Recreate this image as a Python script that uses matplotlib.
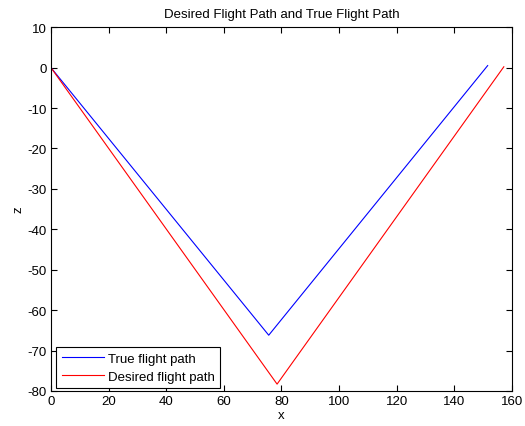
import numpy as np
import matplotlib.pyplot as plt

# flight path vertices (x, z)
true_x = [0, 75.6, 151.6]
true_z = [0, -66.2, 0.5]
desired_x = [0, 78.5, 157.2]
desired_z = [0, -78.3, 0.2]

plt.rcParams['font.family'] = ['Liberation Sans', 'DejaVu Sans']
plt.rcParams['font.size'] = 9.5
plt.rcParams['axes.unicode_minus'] = False

fig = plt.figure(figsize=(5.25, 4.27), dpi=100)
ax = fig.add_axes([0.097, 0.082, 0.878, 0.852])

ax.plot(true_x, true_z, color='blue', linewidth=0.8, label='True flight path')
ax.plot(desired_x, desired_z, color='red', linewidth=0.8, label='Desired flight path')

ax.set_xlim(0, 160)
ax.set_ylim(-80, 10)
ax.set_xticks(np.arange(0, 161, 20))
ax.set_yticks(np.arange(-80, 11, 10))
ax.tick_params(direction='in', length=4, width=0.8, top=True, right=True, pad=3)
for s in ax.spines.values():
    s.set_linewidth(0.8)

ax.set_title('Desired Flight Path and True Flight Path', fontsize=9.5, pad=7)
ax.set_xlabel('x', labelpad=1)
ax.set_ylabel('z', labelpad=2)

leg = ax.legend(loc='lower left', fancybox=False, framealpha=1, edgecolor='black',
                bbox_to_anchor=(0.012, 0.008), borderaxespad=0,
                handlelength=3.2, handletextpad=0.3,
                borderpad=0.4, labelspacing=0.45)
leg.get_frame().set_linewidth(0.8)

fig.savefig('out.png', dpi=100)
